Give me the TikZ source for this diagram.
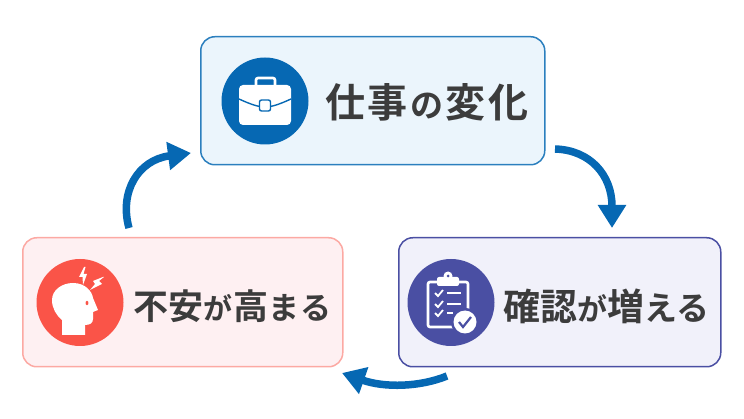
\documentclass[tikz,border=0pt]{standalone}
\usepackage{fontspec}
\setmainfont{Noto Sans CJK JP}[BoldFont={Noto Sans CJK JP Bold}]
\usetikzlibrary{positioning,arrows.meta}
\definecolor{cblue}{HTML}{0668B3}
\definecolor{cviolet}{HTML}{4A4FA3}
\definecolor{cred}{HTML}{FA5448}
\definecolor{ctext}{HTML}{3C3C3C}
\definecolor{pblue}{HTML}{EBF5FC}
\definecolor{pviolet}{HTML}{F1F1FA}
\definecolor{pred}{HTML}{FEF0F2}
\newcommand{\kn}[2]{{\fontsize{#1}{#1}\selectfont #2}}
\tikzset{
  x=1pt,y=-1pt,
  card/.style={draw=#1, line width=1.5pt, rounded corners=14pt, inner sep=0pt, anchor=north west},
  badge/.style={circle, fill=#1, inner sep=0pt, minimum size=87pt},
  caption/.style={text=ctext, font=\bfseries, inner sep=0pt, anchor=west},
  loopline/.style={draw=cblue, line width=7.5pt, -{Triangle[length=23pt,width=27pt]}},
  glyph/.style={fill=white, draw=none}
}
\begin{document}
\begin{tikzpicture}
  \useasboundingbox (0,0) rectangle (744,419);
  \node[card=cblue!85, fill=pblue, minimum width=344pt, minimum height=128pt] (change) at (200,36) {};
  \node[card=cviolet, fill=pviolet, minimum width=322pt, minimum height=129pt] (check) at (398,237) {};
  \node[card=cred!50, fill=pred, minimum width=320pt, minimum height=129pt] (worry) at (22,237) {};

  \node[badge=cblue] (changeicon) at (265,101) {};
  \node[badge=cviolet] (checkicon) at (451,302.5) {};
  \node[badge=cred] (worryicon) at (80,302.5) {};

  \node[caption] (changetext) at (325,102) {\kn{40}{仕\kern2.5pt 事\kern2.5pt}\kn{33}{の\kern2.5pt}\kn{40}{変\kern2.5pt 化}};
  \node[caption] (checktext) at (503,306) {\kn{37}{確認}\kn{30}{が}\kn{37}{増}\kn{33}{える}};
  \node[caption] (worrytext) at (133,306) {\kn{35}{不安}\kn{29}{\kern.5pt が\kern.5pt}\kn{35}{高}\kn{31}{\kern.5pt ま\kern.5pt る}};

  % briefcase
  \draw[white, line width=2.6pt, rounded corners=2pt] (256,86) -- (256,78) -- (275,78) -- (275,86);
  \fill[glyph, rounded corners=4pt] (239,85) rectangle (291,125);
  \draw[cblue, line width=1.4pt] (239,99) .. controls (250,104) and (258,107) .. (265,107) .. controls (272,107) and (280,104) .. (291,99);
  \draw[cblue, fill=white, line width=1.4pt, rounded corners=2pt] (259.5,100) rectangle (270.5,111);

  % clipboard
  \draw[white, line width=2.6pt, rounded corners=2pt] (438,282) -- (428,282) -- (428,327) -- (456,327);
  \draw[white, line width=2.6pt, rounded corners=2pt] (458,282) -- (468,282) -- (468,310);
  \fill[glyph, rounded corners=2pt] (437,277) rectangle (459,286);
  \fill[glyph] (448,276) circle (4.5pt);
  \fill[cviolet] (448,276) circle (1.5pt);
  \foreach \rowy/\rowx in {293/461,304/461,313/453} {
    \draw[white, line width=2pt] (447,\rowy) -- (\rowx,\rowy);
    \draw[white, line width=1.8pt] (435,\rowy) -- (438,\rowy+3) -- (443,\rowy-3);
  }
  \fill[cviolet] (465,322) circle (14pt);
  \fill[glyph] (465,322) circle (11.5pt);
  \draw[cviolet, line width=2.2pt] (459,322) -- (463,327) -- (471,317);

  % head
  \fill[glyph] (62,335) -- (62,320)
    .. controls (56,315) and (52,308) .. (52,300)
    .. controls (52,290) and (62,283) .. (73,283)
    .. controls (85,283) and (92,291) .. (93,298)
    -- (98,310) -- (93,312) -- (93,319)
    .. controls (93,323) and (90,325) .. (85,325)
    -- (85,335) -- cycle;
  \fill[cred] (87,303) ellipse (1.4pt and 2.2pt);
  \fill[glyph] (84,267) -- (79,277) -- (82.5,277) -- (83,285) -- (87,274) -- (83.5,274) -- (85.5,267) -- cycle;
  \fill[glyph] (103,277) -- (93,281) -- (95,284) -- (90,290) -- (102,284) -- (99,281) -- (104,277) -- cycle;

  \coordinate (a1) at (555,149);
  \coordinate (a2) at (612,228);
  \coordinate (b1) at (447,376);
  \coordinate (b2) at (342,373);
  \coordinate (c1) at (129,228);
  \coordinate (c2) at (191,153);

  \draw[loopline] (a1) .. controls (590,150) and (612,175) .. (a2);
  \draw[loopline] (b1) .. controls (420,387) and (385,388) .. (b2);
  \draw[loopline] (c1) .. controls (119,192) and (138,160) .. (c2);
\end{tikzpicture}
\end{document}
